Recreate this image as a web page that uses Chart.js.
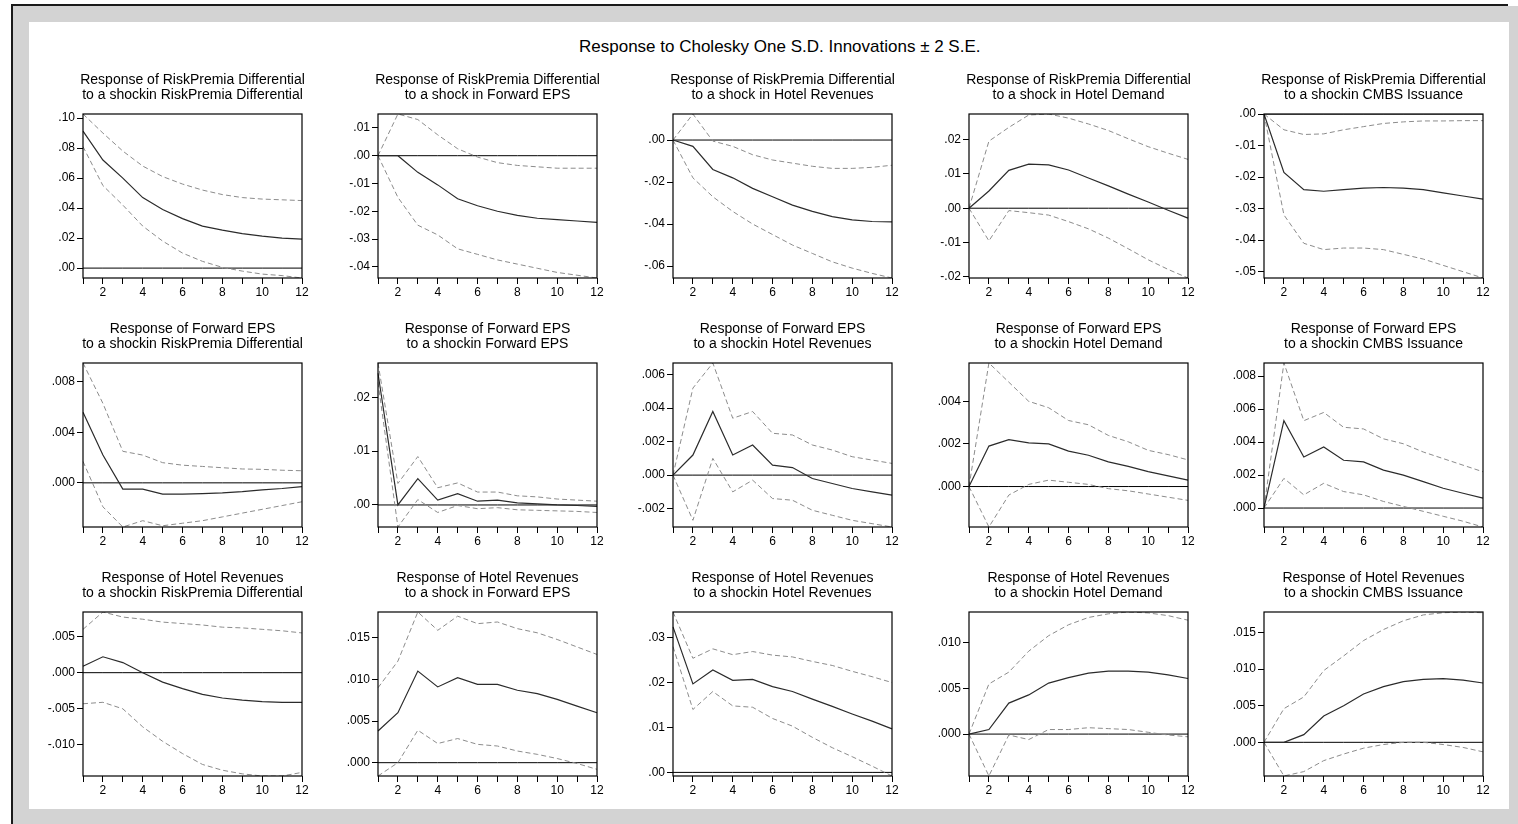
<!DOCTYPE html>
<html>
<head>
<meta charset="utf-8">
<script src="https://cdn.jsdelivr.net/npm/chart.js@4.4.1/dist/chart.umd.min.js"></script>
<style>
  body { margin: 0; background: #fff; width: 1518px; height: 824px; overflow: hidden; position: relative; font-family: "Liberation Sans", Arial, sans-serif; }
  #grey { position: absolute; left: 13px; top: 6px; width: 1505px; height: 818px; background: #d3d3d3; }
  #topline { position: absolute; left: 11px; top: 4px; width: 1497px; height: 2px; background: #1a1a1a; }
  #leftline { position: absolute; left: 11px; top: 4px; width: 2px; height: 820px; background: #1a1a1a; }
  #sheet { position: absolute; left: 29px; top: 22px; width: 1480px; height: 787px; background: #fff; }
  #title { position: absolute; left: 579px; width: 400px; top: 37px; text-align: center; font-size: 17px; color: #000; white-space: nowrap; }
  canvas { position: absolute; }
</style>
</head>
<body>
<div id="grey"></div>
<div id="topline"></div>
<div id="leftline"></div>
<div id="sheet"></div>
<div id="title">Response to Cholesky One S.D. Innovations ± 2 S.E.</div>

<script>
const FONT = '"Liberation Sans", Arial, sans-serif';
const periods = [1, 2, 3, 4, 5, 6, 7, 8, 9, 10, 11, 12];
const zeroLine = [0, 0, 0, 0, 0, 0, 0, 0, 0, 0, 0, 0];

// titles: first line per row, second line per panel
const rowTitles = ["Response of RiskPremia Differential", "Response of Forward EPS", "Response of Hotel Revenues"];
const shockTitles = [
  ["to a shockin RiskPremia Differential", "to a shock in Forward EPS", "to a shock in Hotel Revenues", "to a shock in Hotel Demand", "to a shockin CMBS Issuance"],
  ["to a shockin RiskPremia Differential", "to a shockin Forward EPS", "to a shockin Hotel Revenues", "to a shockin Hotel Demand", "to a shockin CMBS Issuance"],
  ["to a shockin RiskPremia Differential", "to a shock in Forward EPS", "to a shockin Hotel Revenues", "to a shockin Hotel Demand", "to a shockin CMBS Issuance"]
];

// response of RiskPremia Differential
const rpRpMid = [0.0913, 0.072, 0.060, 0.047, 0.039, 0.033, 0.028, 0.0253, 0.023, 0.0213, 0.020, 0.0193];
const rpRpUp  = [0.1027, 0.090, 0.078, 0.068, 0.061, 0.056, 0.052, 0.049, 0.047, 0.046, 0.0455, 0.045];
const rpRpLo  = [0.081, 0.055, 0.042, 0.028, 0.018, 0.010, 0.0045, 0.0005, -0.002, -0.004, -0.005, -0.0066];

const rpEpsMid = [0, 0, -0.006, -0.0105, -0.0155, -0.018, -0.020, -0.0215, -0.0225, -0.023, -0.0235, -0.024];
const rpEpsUp  = [0, 0.015, 0.013, 0.0075, 0.0025, -0.0005, -0.0025, -0.0035, -0.004, -0.0045, -0.0045, -0.0045];
const rpEpsLo  = [0, -0.015, -0.025, -0.0285, -0.0335, -0.0355, -0.0375, -0.039, -0.0405, -0.042, -0.043, -0.044];

const rpHrMid = [0, -0.003, -0.014, -0.018, -0.023, -0.027, -0.031, -0.034, -0.0365, -0.038, -0.0388, -0.039];
const rpHrUp  = [0, 0.0124, -0.0005, -0.003, -0.007, -0.0095, -0.011, -0.0125, -0.0135, -0.0135, -0.013, -0.012];
const rpHrLo  = [0, -0.018, -0.027, -0.034, -0.040, -0.045, -0.050, -0.054, -0.058, -0.061, -0.0635, -0.0657];

const rpHdMid = [0, 0.005, 0.011, 0.0128, 0.0126, 0.0111, 0.0088, 0.0065, 0.0041, 0.0018, -0.0006, -0.0029];
const rpHdUp  = [0, 0.0195, 0.0235, 0.0271, 0.0274, 0.0262, 0.0245, 0.0226, 0.0202, 0.0179, 0.016, 0.0142];
const rpHdLo  = [0, -0.0095, -0.0007, -0.0013, -0.002, -0.0039, -0.006, -0.0087, -0.0118, -0.015, -0.0178, -0.0203];

const rpCmbsMid = [0, -0.0185, -0.024, -0.0245, -0.024, -0.0235, -0.0233, -0.0235, -0.024, -0.025, -0.026, -0.027];
const rpCmbsUp  = [0, -0.005, -0.0065, -0.0063, -0.005, -0.004, -0.003, -0.0025, -0.0022, -0.0022, -0.0021, -0.0021];
const rpCmbsLo  = [0, -0.032, -0.041, -0.043, -0.0425, -0.0425, -0.043, -0.0445, -0.046, -0.048, -0.050, -0.052];

// response of Forward EPS
const epsRpMid = [0.0056, 0.0022, -0.0005, -0.0005, -0.0009, -0.0009, -0.00085, -0.0008, -0.0007, -0.00055, -0.00045, -0.0003];
const epsRpUp  = [0.0095, 0.0063, 0.0025, 0.0022, 0.0016, 0.0014, 0.0013, 0.0012, 0.0011, 0.00107, 0.001, 0.00096];
const epsRpLo  = [0.0017, -0.0019, -0.0035, -0.003, -0.0034, -0.0032, -0.003, -0.0027, -0.0024, -0.0021, -0.0018, -0.0015];

const epsEpsMid = [0.0245, 0, 0.0049, 0.0009, 0.0021, 0.0007, 0.0009, 0.0004, 0.0002, 0, -0.0001, -0.00025];
const epsEpsUp  = [0.0264, 0.004, 0.009, 0.0032, 0.0041, 0.0024, 0.0024, 0.0017, 0.0015, 0.0011, 0.0009, 0.0007];
const epsEpsLo  = [0.0228, -0.0041, 0.001, -0.0014, -0.0001, -0.0007, -0.0005, -0.0009, -0.001, -0.0011, -0.0012, -0.0014];

const epsHrMid = [0, 0.0012, 0.0038, 0.0012, 0.0018, 0.0006, 0.00045, -0.0002, -0.0005, -0.0008, -0.001, -0.0012];
const epsHrUp  = [0, 0.0052, 0.0067, 0.0034, 0.0038, 0.0025, 0.0024, 0.0018, 0.0015, 0.0011, 0.0009, 0.0007];
const epsHrLo  = [0, -0.0027, 0.001, -0.001, -0.0003, -0.0014, -0.0015, -0.0021, -0.0024, -0.0027, -0.0029, -0.0031];

const epsHdMid = [0, 0.0019, 0.0022, 0.00205, 0.002, 0.00166, 0.00147, 0.00116, 0.00095, 0.0007, 0.0005, 0.0003];
const epsHdUp  = [0, 0.0058, 0.0049, 0.004, 0.0037, 0.0031, 0.0029, 0.0024, 0.0021, 0.0017, 0.0015, 0.00125];
const epsHdLo  = [0, -0.0019, -0.0004, 0.0001, 0.0003, 0.0002, 0.0001, -0.0001, -0.0002, -0.00035, -0.0005, -0.00065];

const epsCmbsMid = [0, 0.0053, 0.0031, 0.0037, 0.0029, 0.0028, 0.0023, 0.002, 0.0016, 0.0012, 0.0009, 0.0006];
const epsCmbsUp  = [0, 0.0088, 0.0053, 0.0058, 0.0049, 0.0048, 0.0042, 0.0039, 0.0034, 0.003, 0.0026, 0.0022];
const epsCmbsLo  = [0, 0.0018, 0.0008, 0.0015, 0.001, 0.0008, 0.0004, 0.0001, -0.0002, -0.0005, -0.0008, -0.00115];

// response of Hotel Revenues
const hrRpMid = [0.0009, 0.0022, 0.0014, 0, -0.0013, -0.0022, -0.003, -0.0035, -0.0038, -0.004, -0.0041, -0.0041];
const hrRpUp  = [0.006, 0.0084, 0.0077, 0.0074, 0.007, 0.0068, 0.0066, 0.0063, 0.0062, 0.006, 0.0058, 0.0055];
const hrRpLo  = [-0.0043, -0.0041, -0.005, -0.0075, -0.0095, -0.0112, -0.0127, -0.0135, -0.014, -0.0143, -0.0143, -0.0138];

const hrEpsMid = [0.0038, 0.006, 0.011, 0.0091, 0.0102, 0.0094, 0.0094, 0.0087, 0.0083, 0.0076, 0.0068, 0.006];
const hrEpsUp  = [0.009, 0.0122, 0.0181, 0.0159, 0.0176, 0.0167, 0.0169, 0.0161, 0.0156, 0.0148, 0.0139, 0.013];
const hrEpsLo  = [-0.0016, 0, 0.0039, 0.0023, 0.0029, 0.0022, 0.002, 0.0014, 0.001, 0.0005, -0.0001, -0.0008];

const hrHrMid = [0.0324, 0.0197, 0.0228, 0.0205, 0.0207, 0.0191, 0.018, 0.0163, 0.0147, 0.013, 0.0114, 0.0097];
const hrHrUp  = [0.0357, 0.0254, 0.0275, 0.0262, 0.0269, 0.0261, 0.0257, 0.0247, 0.0238, 0.0225, 0.0213, 0.02];
const hrHrLo  = [0.028, 0.014, 0.018, 0.0148, 0.0145, 0.012, 0.0103, 0.0078, 0.0055, 0.0035, 0.0014, -0.0008];

const hrHdMid = [0, 0.0005, 0.0034, 0.0043, 0.0056, 0.0062, 0.0067, 0.0069, 0.0069, 0.0068, 0.0065, 0.0061];
const hrHdUp  = [0, 0.0055, 0.0068, 0.0091, 0.0108, 0.012, 0.0128, 0.0132, 0.0134, 0.0133, 0.013, 0.0125];
const hrHdLo  = [0, -0.0046, -0.0001, -0.0006, 0.0005, 0.0005, 0.0007, 0.0006, 0.0005, 0.0002, -0.0001, -0.0003];

const hrCmbsMid = [0, 0, 0.00105, 0.0036, 0.005, 0.0066, 0.0076, 0.0083, 0.0086, 0.0087, 0.0085, 0.0081];
const hrCmbsUp  = [0, 0.0046, 0.0062, 0.0098, 0.0118, 0.0139, 0.0154, 0.0166, 0.0174, 0.0177, 0.0178, 0.0177];
const hrCmbsLo  = [0, -0.0046, -0.004, -0.0025, -0.0016, -0.0008, -0.0003, 0, 0, -0.0003, -0.0007, -0.0013];

// y tick values and decimals shown for each panel
const yTicks = [
  [[0, 0.02, 0.04, 0.06, 0.08, 0.10], [-0.04, -0.03, -0.02, -0.01, 0, 0.01], [-0.06, -0.04, -0.02, 0], [-0.02, -0.01, 0, 0.01, 0.02], [-0.05, -0.04, -0.03, -0.02, -0.01, 0]],
  [[0, 0.004, 0.008], [0, 0.01, 0.02], [-0.002, 0, 0.002, 0.004, 0.006], [0, 0.002, 0.004], [0, 0.002, 0.004, 0.006, 0.008]],
  [[-0.010, -0.005, 0, 0.005], [0, 0.005, 0.010, 0.015], [0, 0.01, 0.02, 0.03], [0, 0.005, 0.010], [0, 0.005, 0.010, 0.015]]
];
const yDecimals = [[2, 2, 2, 2, 2], [3, 2, 3, 3, 3], [3, 3, 2, 3, 3]];

const series = [
  [[rpRpMid, rpRpUp, rpRpLo], [rpEpsMid, rpEpsUp, rpEpsLo], [rpHrMid, rpHrUp, rpHrLo], [rpHdMid, rpHdUp, rpHdLo], [rpCmbsMid, rpCmbsUp, rpCmbsLo]],
  [[epsRpMid, epsRpUp, epsRpLo], [epsEpsMid, epsEpsUp, epsEpsLo], [epsHrMid, epsHrUp, epsHrLo], [epsHdMid, epsHdUp, epsHdLo], [epsCmbsMid, epsCmbsUp, epsCmbsLo]],
  [[hrRpMid, hrRpUp, hrRpLo], [hrEpsMid, hrEpsUp, hrEpsLo], [hrHrMid, hrHrUp, hrHrLo], [hrHdMid, hrHdUp, hrHdLo], [hrCmbsMid, hrCmbsUp, hrCmbsLo]]
];

// plot box geometry on the page
const PLOT_W = 219, PLOT_H = 164;
const colLeft = [83, 378, 673, 969, 1264];
const rowTop = [114, 363, 612];
const PAD_L = 50, PAD_T = 50, PAD_R = 15, PAD_B = 25;

function fmtTick(v, dec){
  let s = Math.abs(v).toFixed(dec).replace(/^0/, '');
  return (v < -1e-12 ? '-' : '') + s;
}

const boxPlugin = {
  id: 'box',
  afterDraw(chart){
    const a = chart.chartArea, ctx = chart.ctx;
    ctx.save();
    ctx.strokeStyle = '#000';
    ctx.lineWidth = 1.2;
    ctx.strokeRect(a.left, a.top, a.right - a.left, a.bottom - a.top);
    const t = chart.options.plugins.panelTitle.lines;
    ctx.fillStyle = '#000';
    ctx.font = '14px ' + FONT;
    ctx.textAlign = 'center';
    ctx.textBaseline = 'alphabetic';
    const cx = (a.left + a.right) / 2;
    ctx.fillText(t[0], cx, a.top - 30);
    ctx.fillText(t[1], cx, a.top - 15);
    ctx.restore();
  }
};

function makePanel(r, c){
  const [mid, up, lo] = series[r][c];
  const all = mid.concat(up, lo);
  const yMin = Math.min(...all), yMax = Math.max(...all);
  const ticks = yTicks[r][c], dec = yDecimals[r][c];

  const cv = document.createElement('canvas');
  cv.width = PAD_L + PLOT_W + PAD_R;
  cv.height = PAD_T + PLOT_H + PAD_B;
  cv.style.left = (colLeft[c] - PAD_L) + 'px';
  cv.style.top = (rowTop[r] - PAD_T) + 'px';
  document.body.appendChild(cv);

  const tickGrid = { drawOnChartArea: false, drawTicks: true, tickLength: 6, color: '#000', lineWidth: 1 };

  new Chart(cv.getContext('2d'), {
    type: 'line',
    data: {
      labels: periods.map(String),
      datasets: [
        { data: mid, borderColor: '#2b2b2b', borderWidth: 1.2 },
        { data: up, borderColor: '#8c8c8c', borderWidth: 1, borderDash: [5, 3] },
        { data: lo, borderColor: '#8c8c8c', borderWidth: 1, borderDash: [5, 3] },
        { data: zeroLine, borderColor: '#000', borderWidth: 1 }
      ]
    },
    options: {
      responsive: false,
      animation: false,
      events: [],
      layout: { padding: { top: PAD_T, right: PAD_R, left: 0, bottom: 0 } },
      elements: { point: { radius: 0 }, line: { tension: 0 } },
      plugins: {
        legend: { display: false },
        tooltip: { enabled: false },
        panelTitle: { lines: [rowTitles[r], shockTitles[r][c]] }
      },
      scales: {
        x: {
          type: 'category',
          offset: false,
          border: { display: false },
          grid: tickGrid,
          ticks: {
            autoSkip: false, maxRotation: 0, padding: 1, color: '#000',
            font: { family: FONT, size: 12 },
            callback: (v, i) => periods[i] % 2 === 0 ? String(periods[i]) : ''
          },
          afterFit: s => { s.height = PAD_B; }
        },
        y: {
          type: 'linear',
          min: yMin,
          max: yMax,
          border: { display: false },
          grid: tickGrid,
          ticks: {
            padding: 2, color: '#000',
            font: { family: FONT, size: 12 },
            callback: v => fmtTick(v, dec)
          },
          afterBuildTicks: s => { s.ticks = ticks.map(v => ({ value: v })); },
          afterFit: s => { s.width = PAD_L; }
        }
      }
    },
    plugins: [boxPlugin]
  });
}

for (let r = 0; r < 3; r++){
  for (let c = 0; c < 5; c++){
    makePanel(r, c);
  }
}
</script>
</body>
</html>
